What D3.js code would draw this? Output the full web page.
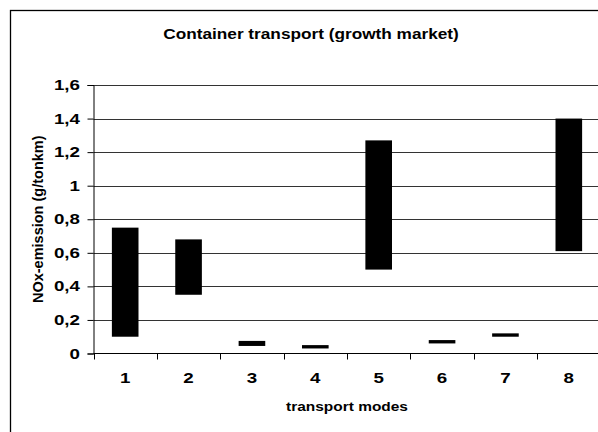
<!DOCTYPE html>
<html>
<head>
<meta charset="utf-8">
<script src="https://cdn.jsdelivr.net/npm/d3@7"></script>
<style>
  body { margin: 0; background: #fff; }
  svg { display: block; }
  text { font-family: "Liberation Sans", Arial, sans-serif; font-weight: bold; fill: #000; }
</style>
</head>
<body>
<svg width="598" height="432"></svg>
<script>
// data: NOx-emission range (g/tonkm) per transport mode
var modes = ["1", "2", "3", "4", "5", "6", "7", "8"];
var lowValues = [0.10, 0.35, 0.045, 0.03, 0.50, 0.06, 0.10, 0.61];
var highValues = [0.75, 0.68, 0.075, 0.05, 1.27, 0.08, 0.12, 1.40];
var yTicks = [0, 0.2, 0.4, 0.6, 0.8, 1, 1.2, 1.4, 1.6];

//begin: layout conf.
var svgWidth = 598,
    svgHeight = 432,
    plot = {left: 93.5, right: 600.5, top: 85, bottom: 353.5},
    barRatio = 0.42;
//end: layout conf.

var svg = d3.select("svg");

var commaLocale = d3.formatLocale({decimal: ",", thousands: ".", grouping: [3], currency: ["", ""]});
var fmt = commaLocale.format(".1~f");

var x = d3.scaleBand()
    .domain(modes)
    .range([plot.left, plot.right])
    .padding(0);

var y = d3.scaleLinear()
    .domain([0, 1.6])
    .range([plot.bottom, plot.top]);

// the original text is a bit wider than plain Arial bold, so stretch it horizontally
function wideText(sel, px, py, size, sx, anchor, str) {
  return sel.append("text")
      .attr("transform", "translate(" + [px, py] + ") scale(" + sx + ",1)")
      .attr("text-anchor", anchor)
      .style("font-size", size + "px")
      .text(str);
}

// chart border (cut off at right and bottom like the reference)
svg.append("rect")
    .attr("x", 10.5)
    .attr("y", 10.5)
    .attr("width", 620)
    .attr("height", 440)
    .attr("fill", "none")
    .attr("stroke", "#000")
    .attr("stroke-width", 1.3);

wideText(svg, 311, 39, 14, 1.23, "middle", "Container transport (growth market)");

// gridlines
svg.append("g")
    .selectAll("line")
    .data(yTicks.slice(1))
    .enter()
    .append("line")
        .attr("x1", plot.left)
        .attr("x2", plot.right)
        .attr("y1", function(d){ return Math.round(y(d)) + 0.5; })
        .attr("y2", function(d){ return Math.round(y(d)) + 0.5; })
        .attr("stroke", "#333")
        .attr("stroke-width", 1);

// bars (floating ranges)
svg.append("g")
    .selectAll("rect")
    .data(modes)
    .enter()
    .append("rect")
        .attr("x", function(d){ return x(d) + x.bandwidth() * (1 - barRatio) / 2; })
        .attr("width", x.bandwidth() * barRatio)
        .attr("y", function(d, i){ return y(highValues[i]); })
        .attr("height", function(d, i){ return y(lowValues[i]) - y(highValues[i]); })
        .attr("fill", "#000");

// y axis
var yAxis = svg.append("g")
    .attr("transform", "translate(" + plot.left + ",0)")
    .call(d3.axisLeft(y).tickValues(yTicks).tickFormat("").tickSizeOuter(0).tickSize(6));
yAxis.select(".domain").attr("stroke", "#000");
yTicks.forEach(function(t){
  wideText(svg, 80, y(t) + 5, 15, 1.25, "end", fmt(t));
});

// x axis: ticks at band boundaries, labels at centers
var xAxis = svg.append("g")
    .attr("transform", "translate(0," + plot.bottom + ")");
xAxis.append("line")
    .attr("x1", plot.left)
    .attr("x2", plot.right)
    .attr("stroke", "#000");
xAxis.selectAll(".tick")
    .data(modes)
    .enter()
    .append("line")
        .attr("x1", function(d){ return Math.round(x(d)) + 0.5; })
        .attr("x2", function(d){ return Math.round(x(d)) + 0.5; })
        .attr("y2", 6)
        .attr("stroke", "#000");
modes.forEach(function(m){
  wideText(svg, x(m) + x.bandwidth() / 2, 383, 15, 1.25, "middle", m);
});

wideText(svg, (plot.left + plot.right) / 2, 411, 13, 1.19, "middle", "transport modes");

svg.append("text")
    .attr("transform", "translate(43," + ((plot.top + plot.bottom) / 2) + ") rotate(-90)")
    .attr("text-anchor", "middle")
    .style("font-size", "14.5px")
    .text("NOx-emission (g/tonkm)");
</script>
</body>
</html>
